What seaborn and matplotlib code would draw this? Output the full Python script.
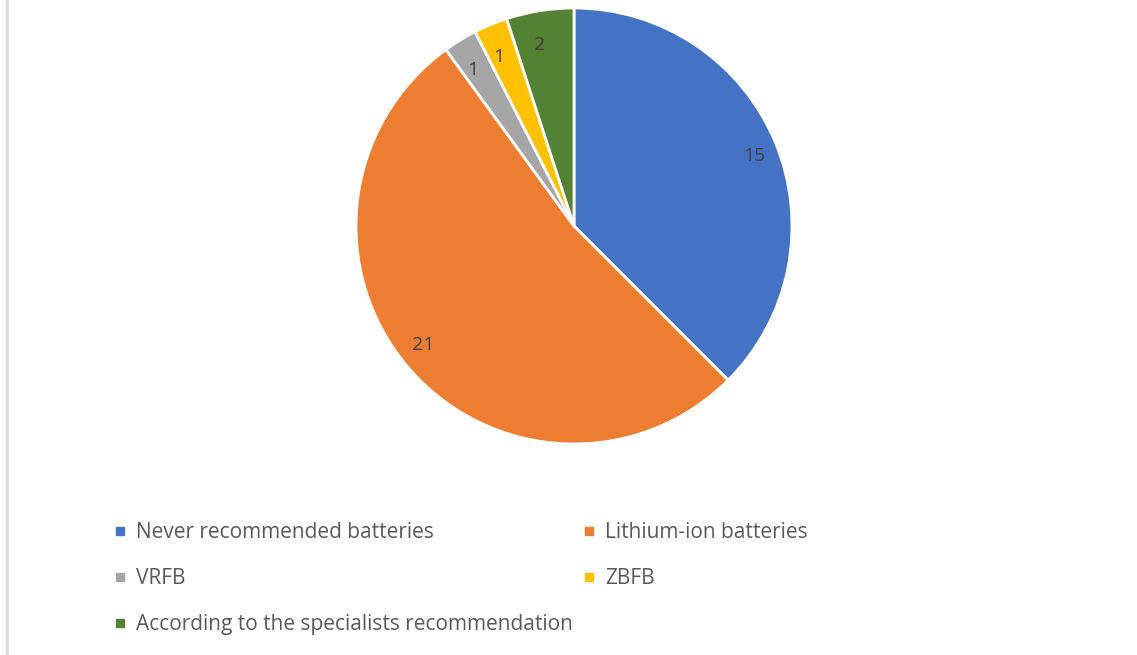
import matplotlib
matplotlib.use("Agg")
import matplotlib.pyplot as plt
from matplotlib.lines import Line2D
import seaborn as sns

categories = [
    "Never recommended batteries",
    "Lithium-ion batteries",
    "VRFB",
    "ZBFB",
    "According to the specialists recommendation",
]
counts = [15, 21, 1, 1, 2]
colors = ["#4472C4", "#ED7D31", "#A5A5A5", "#FFC000", "#548235"]

sns.set_theme(style="white")
plt.rcParams["font.family"] = ["Open Sans", "DejaVu Sans"]
palette = sns.color_palette(colors)

W, H = 1137, 655
fig = plt.figure(figsize=(W / 100, H / 100), dpi=100)
fig.patch.set_facecolor("white")

# pie area: centre (574, 226) px, radius 218 px
cx, cy, r = 574, 226, 218
ax = fig.add_axes([(cx - r) / W, (H - cy - r) / H, 2 * r / W, 2 * r / H])
wedges, texts = ax.pie(
    counts,
    colors=palette,
    startangle=90,
    counterclock=False,
    labels=[str(c) for c in counts],
    labeldistance=0.84,
    wedgeprops=dict(edgecolor="white", linewidth=2),
    textprops=dict(color="#404040", fontsize=14),
)
ax.set_xlim(-1, 1)
ax.set_ylim(-1, 1)
ax.set_aspect("equal")
ax.axis("off")

# legend laid out row by row in two columns
order = [0, 2, 4, 1, 3]
handles = [
    Line2D([0], [0], marker="s", linestyle="none", markersize=5.5,
           markerfacecolor=palette[i], markeredgecolor=palette[i])
    for i in order
]
leg = fig.legend(
    handles, [categories[i] for i in order], ncol=2,
    loc="upper left", bbox_to_anchor=(114 / W, 1 - 522 / H),
    frameon=False, fontsize=15, labelcolor="#595959",
    handlelength=0.6, handletextpad=0.45, columnspacing=0.5,
    labelspacing=1.2, borderaxespad=0, borderpad=0,
)

# thin grey frame line on the left edge
fig.add_artist(Line2D([7 / W, 7 / W], [0, 1], color="#D9D9D9", linewidth=2,
                      transform=fig.transFigure))

fig.savefig("out.png", dpi=100, facecolor="white")
